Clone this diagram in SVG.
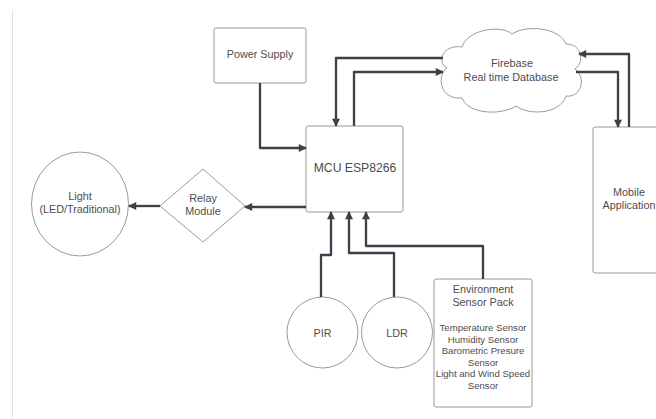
<svg xmlns="http://www.w3.org/2000/svg" width="656" height="419" viewBox="0 0 656 419">
<defs>
<marker id="ah" viewBox="0 0 10 10" refX="9" refY="5" markerWidth="9" markerHeight="8" markerUnits="userSpaceOnUse" orient="auto">
<path d="M0,0 L10,5 L0,10 Z" fill="#3a414a"/>
</marker>
</defs>
<style>
.shape{fill:#fff;stroke:#9a9a9a;stroke-width:1}
.t{font-family:"Liberation Sans",Arial,sans-serif;fill:#4d4d4d;text-anchor:middle}
.l{font-size:10.8px}
.s{font-size:9.6px}
.conn path{fill:none;stroke:#3a414a;stroke-width:2.3;stroke-linejoin:round;marker-end:url(#ah)}
</style>
<rect x="0" y="0" width="656" height="419" fill="#fff"/>
<line x1="12.5" y1="10" x2="12.5" y2="419" stroke="#e3e3e3" stroke-width="1"/>

<g id="power-supply">
<rect class="shape" x="214" y="28" width="92" height="55" rx="2"/>
<text class="t l" x="260" y="58">Power Supply</text>
</g>

<g id="mcu">
<rect class="shape" x="306" y="126" width="97" height="86" rx="2"/>
<text class="t" style="font-size:12.2px" x="355" y="171.5">MCU ESP8266</text>
</g>

<g id="firebase">
<path class="shape" d="M447,68 C436,62 443,44 462,47 C467,30 500,24 512,34 C527,24 560,28 566,44 C582,44 585,62 575,69 C587,78 581,98 566,96 C560,114 530,116 516,106 C500,116 468,114 462,98 C440,100 436,76 447,68 Z"/>
<text class="t l" x="512" y="67">Firebase</text>
<text class="t l" x="511" y="81">Real time Database</text>
</g>

<g id="mobile-app">
<rect class="shape" x="593" y="127" width="74" height="146" rx="2"/>
<text class="t l" x="629" y="196">Mobile</text>
<text class="t l" x="629" y="209">Application</text>
</g>

<g id="relay">
<path class="shape" d="M203,169 L245,206 L203,242 L160,206 Z"/>
<text class="t l" x="203" y="202">Relay</text>
<text class="t l" x="203" y="215">Module</text>
</g>

<g id="light">
<ellipse class="shape" cx="80" cy="204" rx="48.5" ry="52"/>
<text class="t l" x="80" y="200">Light</text>
<text class="t l" x="80" y="213">(LED/Traditional)</text>
</g>

<g id="pir">
<circle class="shape" cx="322.5" cy="332.5" r="35.5"/>
<text class="t l" x="322.5" y="336.5">PIR</text>
</g>

<g id="ldr">
<circle class="shape" cx="397" cy="332.5" r="35.5"/>
<text class="t l" x="397" y="336.5">LDR</text>
</g>

<g id="env-sensor">
<rect class="shape" x="434" y="279" width="98" height="128" rx="2"/>
<text class="t l" x="483" y="293">Environment</text>
<text class="t l" x="483" y="306">Sensor Pack</text>
<text class="t s" x="483" y="331">Temperature Sensor</text>
<text class="t s" x="483" y="342.5">Humidity Sensor</text>
<text class="t s" x="483" y="354">Barometric Presure</text>
<text class="t s" x="483" y="365.5">Sensor</text>
<text class="t s" x="483" y="377">Light and Wind Speed</text>
<text class="t s" x="483" y="388.5">Sensor</text>
</g>

<g id="connectors" class="conn">
<path d="M260,83 V148 H306"/>
<path d="M354,126 V72 H443"/>
<path d="M443,58 H336 V126"/>
<path d="M629,127 V54 H579"/>
<path d="M576,72 H618 V127"/>
<path d="M306,207 H245"/>
<path d="M160,206 H129"/>
<path d="M321,297 V255 H331 V212"/>
<path d="M394,297 V253 H349 V212"/>
<path d="M483,279 V246 H366 V212"/>
</g>
</svg>
